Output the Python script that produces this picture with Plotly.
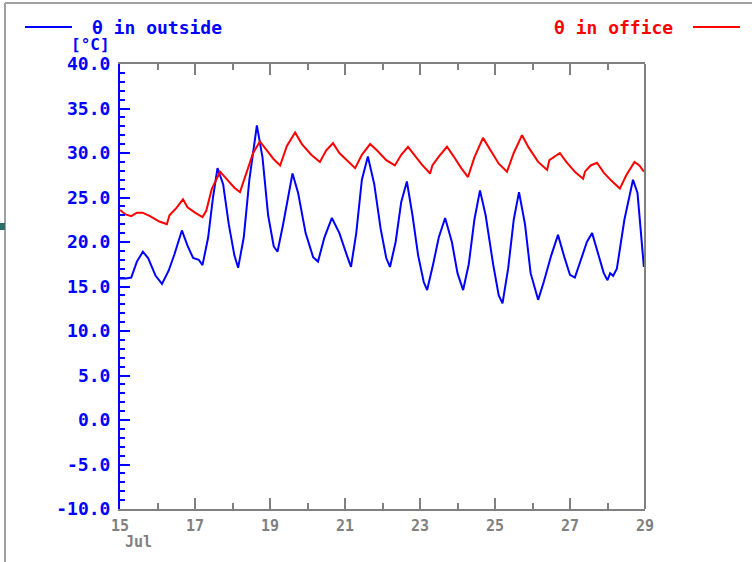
import plotly.graph_objects as go

# ---------------- data (day of July, value in °C) ----------------
outside_day = [15.00, 15.15, 15.30, 15.45, 15.61, 15.75, 15.95, 16.12, 16.30, 16.45,
               16.65, 16.80, 16.95, 17.10, 17.20, 17.35, 17.48, 17.60, 17.75, 17.90,
               18.05, 18.15, 18.30, 18.45, 18.65, 18.80, 18.95, 19.10, 19.20, 19.35,
               19.60, 19.75, 19.95, 20.15, 20.28, 20.45, 20.65, 20.85, 21.05, 21.16,
               21.30, 21.45, 21.61, 21.78, 21.95, 22.10, 22.20, 22.35, 22.50, 22.65,
               22.80, 22.95, 23.10, 23.19, 23.35, 23.50, 23.67, 23.85, 24.00, 24.15,
               24.30, 24.45, 24.60, 24.75, 24.95, 25.10, 25.20, 25.35, 25.50, 25.64,
               25.80, 25.95, 26.15, 26.30, 26.50, 26.68, 26.85, 27.00, 27.13, 27.30,
               27.45, 27.59, 27.75, 27.90, 28.00, 28.07, 28.15, 28.25, 28.45, 28.68,
               28.80, 28.92, 28.97]
outside_val = [15.9, 15.9, 16.0, 17.8, 18.9, 18.2, 16.2, 15.3, 16.8, 18.6,
               21.3, 19.6, 18.2, 18.0, 17.4, 20.5, 25.0, 28.3, 26.5, 22.0,
               18.5, 17.1, 20.5, 27.0, 33.1, 29.5, 23.0, 19.5, 18.9, 22.0,
               27.7, 25.5, 21.0, 18.3, 17.8, 20.5, 22.7, 21.0, 18.5, 17.2,
               21.0, 27.0, 29.6, 26.5, 21.5, 18.2, 17.2, 20.0, 24.5, 26.8,
               23.0, 18.5, 15.5, 14.6, 17.5, 20.5, 22.7, 20.0, 16.5, 14.6,
               17.5, 22.5, 25.8, 23.0, 17.5, 14.0, 13.1, 17.0, 22.5, 25.6,
               22.0, 16.5, 13.5, 15.5, 18.5, 20.8, 18.3, 16.3, 16.0, 18.0,
               20.0, 21.0, 18.8, 16.5, 15.7, 16.5, 16.2, 17.0, 22.5, 27.0,
               25.5, 19.5, 17.2]

office_day = [15.00, 15.15, 15.30, 15.45, 15.60, 15.80, 16.05, 16.25, 16.32, 16.50,
              16.68, 16.80, 17.00, 17.20, 17.30, 17.45, 17.67, 17.85, 18.05, 18.20,
              18.35, 18.55, 18.73, 18.90, 19.10, 19.27, 19.45, 19.67, 19.85, 20.10,
              20.33, 20.50, 20.68, 20.85, 21.05, 21.27, 21.45, 21.67, 21.85, 22.10,
              22.33, 22.50, 22.68, 22.85, 23.05, 23.27, 23.33, 23.50, 23.72, 23.90,
              24.10, 24.28, 24.45, 24.68, 24.90, 25.10, 25.32, 25.50, 25.72, 25.90,
              26.15, 26.39, 26.45, 26.60, 26.73, 26.90, 27.15, 27.35, 27.40, 27.55,
              27.72, 27.90, 28.10, 28.33, 28.50, 28.72, 28.85, 28.97]
office_val = [23.6, 23.1, 22.9, 23.3, 23.3, 22.9, 22.3, 22.0, 23.0, 23.8,
              24.8, 23.9, 23.3, 22.8, 23.5, 26.0, 27.9, 27.0, 26.1, 25.6,
              27.5, 30.0, 31.3, 30.4, 29.3, 28.6, 30.8, 32.3, 31.0, 29.8,
              29.0, 30.3, 31.1, 30.0, 29.2, 28.3, 29.8, 31.0, 30.3, 29.2,
              28.6, 29.8, 30.7, 29.8, 28.7, 27.7, 28.6, 29.6, 30.7, 29.6,
              28.3, 27.3, 29.5, 31.7, 30.2, 28.8, 27.9, 30.0, 32.0, 30.6,
              29.0, 28.1, 29.2, 29.6, 30.0, 29.0, 27.8, 27.1, 27.9, 28.6,
              28.9, 27.8, 26.9, 26.0, 27.5, 29.0, 28.6, 27.9]

series_names = ["\u03b8 in outside", "\u03b8 in office"]
x_tick_vals = [15, 17, 19, 21, 23, 25, 27, 29]
x_tick_text = ["15", "17", "19", "21", "23", "25", "27", "29"]
month_label = "Jul"
y_tick_vals = [-10, -5, 0, 5, 10, 15, 20, 25, 30, 35, 40]
y_tick_text = ["-10.0", "-5.0", "0.0", "5.0", "10.0", "15.0", "20.0",
               "25.0", "30.0", "35.0", "40.0"]
unit_label = "[\u00b0C]"

# ---------------- layout geometry ----------------
W, H = 752, 562
L, R, T, B = 120, 107, 64, 53
PW, PH = W - L - R, H - T - B


def px(x):
    return (x - L) / PW


def py(y):
    return (H - B - y) / PH


BLUE = "#0000ff"
RED = "#ff0000"
GRAY = "#808080"
MONO = "DejaVu Sans Mono"

fig = go.Figure()
fig.add_trace(go.Scatter(x=outside_day, y=outside_val, mode="lines",
                         line=dict(color=BLUE, width=2), name=series_names[0],
                         showlegend=False))
fig.add_trace(go.Scatter(x=office_day, y=office_val, mode="lines",
                         line=dict(color=RED, width=2), name=series_names[1],
                         showlegend=False))

fig.update_layout(
    width=W, height=H,
    margin=dict(l=L, r=R, t=T, b=B, pad=0),
    paper_bgcolor="white", plot_bgcolor="white",
    xaxis=dict(range=[15, 29], tickmode="array", tickvals=x_tick_vals,
               ticktext=x_tick_text, showgrid=False, zeroline=False,
               showline=True, linecolor=GRAY, linewidth=2, mirror="ticks",
               ticks="inside", ticklen=11, tickwidth=2, tickcolor=GRAY,
               minor=dict(tickmode="linear", tick0=15, dtick=1, ticks="inside",
                          ticklen=6, tickwidth=2, tickcolor=GRAY),
               ticklabelstandoff=2,
               tickfont=dict(family=MONO, size=15, color=GRAY, weight="bold")),
    yaxis=dict(range=[-10, 40], tickmode="array", tickvals=y_tick_vals,
               ticktext=y_tick_text, showgrid=False, zeroline=False,
               showline=True, linecolor=BLUE, linewidth=2, mirror=False,
               ticks="inside", ticklen=10, tickwidth=2, tickcolor=BLUE,
               minor=dict(tickmode="linear", tick0=-10, dtick=1, ticks="inside",
                          ticklen=5, tickwidth=2, tickcolor=BLUE),
               ticklabelstandoff=4,
               tickfont=dict(family=MONO, size=18, color=BLUE, weight="bold")),
)

shapes = [
    # right border of plot
    dict(type="line", xref="paper", yref="paper", x0=1, x1=1, y0=0, y1=1,
         line=dict(color=GRAY, width=2)),
    # window frame
    dict(type="line", xref="paper", yref="paper", x0=px(5), x1=px(5),
         y0=py(3), y1=py(562), line=dict(color="#a0a0a0", width=2)),
    dict(type="line", xref="paper", yref="paper", x0=px(5), x1=px(752),
         y0=py(3), y1=py(3), line=dict(color="#a0a0a0", width=2)),
    dict(type="rect", xref="paper", yref="paper", x0=px(0), x1=px(5),
         y0=py(230), y1=py(223), line=dict(width=0), fillcolor="#2f6b68"),
    # legend samples
    dict(type="line", xref="paper", yref="paper", x0=px(25), x1=px(72),
         y0=py(27), y1=py(27), line=dict(color=BLUE, width=2)),
    dict(type="line", xref="paper", yref="paper", x0=px(693), x1=px(740),
         y0=py(27), y1=py(27), line=dict(color=RED, width=2)),
]
fig.update_layout(shapes=shapes)

annotations = [
    dict(text=series_names[0], x=px(90), y=py(28), xref="paper", yref="paper",
         xanchor="left", yanchor="middle", showarrow=False,
         font=dict(family=MONO, size=18, color=BLUE, weight="bold")),
    dict(text=series_names[1], x=px(675), y=py(28), xref="paper", yref="paper",
         xanchor="right", yanchor="middle", showarrow=False,
         font=dict(family=MONO, size=18, color=RED, weight="bold")),
    dict(text=unit_label, x=px(112), y=py(45), xref="paper", yref="paper",
         xanchor="right", yanchor="middle", showarrow=False,
         font=dict(family=MONO, size=16, color=BLUE, weight="bold")),
    dict(text=month_label, x=px(138), y=py(542), xref="paper", yref="paper",
         xanchor="center", yanchor="middle", showarrow=False,
         font=dict(family=MONO, size=15, color=GRAY, weight="bold")),
]
fig.update_layout(annotations=annotations)

fig.write_html("out.html")
